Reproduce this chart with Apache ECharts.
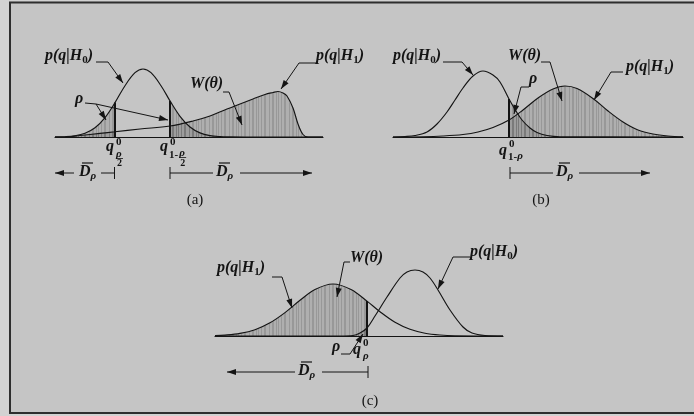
<!DOCTYPE html>
<html lang="en">
<head>
<meta charset="UTF-8">
<title>Decision regions</title>
<script src="https://cdn.jsdelivr.net/npm/echarts@6/dist/echarts.min.js"></script>
<style>
    html, body { margin: 0; padding: 0; background: #d2d2d2; }
    #chart { width: 694px; height: 416px; }
</style>
</head>
<body>
<div id="chart"></div>
<script>
// (a) two-sided test: q positions and curve heights
var qA0 = [0, 10, 20, 30, 40, 50, 60, 70, 80, 88, 96, 106, 115, 125, 135, 145, 155, 165, 175, 190, 268];
var hA0 = [0.1, 0.3, 1.2, 3.7, 9.2, 19.4, 34.4, 51.3, 64.3, 68, 64.3, 51.3, 36.1, 20.7, 10, 4.1, 1.4, 0.4, 0.1, 0, 0];
var qA1 = [0, 10, 25, 45, 60, 85, 115, 138, 155, 172, 185, 198, 210, 218, 223, 228, 232, 238, 243, 248, 253, 268];
var hA1 = [0, 0, 1.5, 3.6, 5.2, 8, 11, 16, 21, 28, 33, 38, 42.5, 44.5, 45.5, 44, 41, 29, 13, 2.5, 0, 0];
var cutA = [60, 115];

// (b) upper-tail test
var qB0 = [0, 12, 22, 34, 44, 54, 62, 70, 80, 90, 100, 107, 116, 123, 129, 137, 144, 154, 167, 290];
var hB0 = [0, 0.5, 1.5, 5, 13, 25, 37, 49, 61, 66, 62, 55, 38, 26, 17, 9, 4.5, 1.5, 0.3, 0];
var qB1 = [0, 30, 50, 70, 85, 100, 116, 130, 145, 160, 172, 184, 200, 215, 230, 245, 260, 275, 290];
var hB1 = [0, 0.3, 1, 2.5, 5, 9.5, 17, 27, 39, 48, 51, 48.5, 38.5, 26, 15, 7, 3, 1, 0.2];
var cutB = 116;

// (c) lower-tail test
var qC1 = [0, 10, 25, 40, 55, 70, 85, 100, 118, 136, 152, 165, 180, 195, 210, 225, 240, 288];
var hC1 = [0.4, 0.9, 2.6, 6.3, 13.2, 23.4, 35.7, 46.5, 52, 46.5, 34.9, 24.2, 13.7, 6.7, 2.8, 1, 0.3, 0];
var qC0 = [0, 125, 138, 145, 152, 160, 172, 185, 192, 200, 208, 215, 223, 235, 248, 257, 270, 288];
var hC0 = [0, 0, 0.5, 3, 8, 20, 39, 58, 64, 66, 64, 58, 46, 26, 9, 3, 0.5, 0];
var cutC = 152;

var INK = '#141414';
var FAM = 'Liberation Serif';
// [style, weight, size]
var FI = ['italic', 'bold', 16];
var FS = ['normal', 'bold', 11];
var FS2 = ['normal', 'bold', 10];
var FSI = ['italic', 'bold', 11];
var FU = ['normal', 'normal', 15];

// hatched fill, like the printed shading
var pat = document.createElement('canvas');
pat.width = 20; pat.height = 4;
var pg = pat.getContext('2d');
pg.fillStyle = 'rgba(80,80,80,0.19)';
pg.fillRect(0, 0, 20, 4);
pg.fillStyle = 'rgba(40,40,40,0.17)';
[1, 4, 5, 9, 12, 13, 16, 18].forEach(function (c) { pg.fillRect(c, 0, 1, 4); });
var fill = { image: pat, repeat: 'repeat' };

function pairs(xs, ys) { return xs.map(function (x, i) { return [x, ys[i]]; }); }
function upto(p, t) { return p.filter(function (d) { return d[0] <= t; }); }
function from(p, t) { return p.filter(function (d) { return d[0] >= t; }); }
function at(xs, ys, t) { return ys[xs.indexOf(t)]; }

var series = [];
function curve(g, data) {
    series.push({ type: 'line', xAxisIndex: g, yAxisIndex: g, data: data, smooth: 0.35, symbol: 'none',
        lineStyle: { color: INK, width: 1.15 }, z: 5 });
}
function shade(g, data) {
    series.push({ type: 'line', xAxisIndex: g, yAxisIndex: g, data: data, smooth: 0.35, symbol: 'none',
        lineStyle: { opacity: 0 }, areaStyle: { color: fill, opacity: 1 }, z: 3 });
}
function cut(g, t, h) {
    series.push({ type: 'line', xAxisIndex: g, yAxisIndex: g, data: [[t, 0], [t, h]], symbol: 'none',
        lineStyle: { color: INK, width: 2 }, z: 6 });
}

var pA0 = pairs(qA0, hA0), pA1 = pairs(qA1, hA1);
shade(0, upto(pA0, cutA[0])); shade(0, upto(pA1, cutA[0]));
shade(0, from(pA0, cutA[1])); shade(0, from(pA1, cutA[1]));
curve(0, pA0); curve(0, pA1);
cut(0, cutA[0], at(qA0, hA0, cutA[0])); cut(0, cutA[1], at(qA0, hA0, cutA[1]));

var pB0 = pairs(qB0, hB0), pB1 = pairs(qB1, hB1);
shade(1, from(pB0, cutB)); shade(1, from(pB1, cutB));
curve(1, pB0); curve(1, pB1);
cut(1, cutB, at(qB0, hB0, cutB));

var pC0 = pairs(qC0, hC0), pC1 = pairs(qC1, hC1);
shade(2, upto(pC1, cutC)); shade(2, upto(pC0, cutC));
curve(2, pC0); curve(2, pC1);
cut(2, cutC, at(qC1, hC1, cutC));

// annotation helpers
var els = [];
var mctx = document.createElement('canvas').getContext('2d');
function tw(s, f) {
    mctx.font = f[0] + ' ' + f[1] + ' ' + f[2] + 'px "' + FAM + '"';
    return mctx.measureText(s).width;
}
function T(x, y, s, f, align) {
    els.push({ type: 'text', x: x, y: y, z: 100,
        style: { text: s, fontStyle: f[0], fontWeight: f[1], fontSize: f[2], fontFamily: FAM,
            fill: INK, align: align || 'left', verticalAlign: 'middle' } });
    return x + tw(s, f);
}
function run(x, y, parts) {
    parts.forEach(function (p) { x = T(x, y + (p[2] || 0), p[0], p[1]); });
    return x;
}
function seg(pts, w) {
    els.push({ type: 'polyline', z: 100, shape: { points: pts }, style: { stroke: INK, lineWidth: w || 1, fill: null } });
}
function arrow(pts) {
    seg(pts, 1);
    var a = pts[pts.length - 2], b = pts[pts.length - 1];
    var dx = b[0] - a[0], dy = b[1] - a[1], L = Math.sqrt(dx * dx + dy * dy);
    var ux = dx / L, uy = dy / L, len = 9, wd = 3;
    var bx = b[0] - ux * len, by = b[1] - uy * len;
    els.push({ type: 'polygon', z: 100, shape: { points: [[b[0], b[1]], [bx - uy * wd, by + ux * wd], [bx + uy * wd, by - ux * wd]] },
        style: { fill: INK } });
}
function hyp(x, y, k) { return run(x, y, [['p(q|H', FI], [k, FS, 4], [')', FI]]); }
function dbar(x, y) {
    T(x, y, 'D', FI);
    seg([[x + 3, y - 9], [x + 14, y - 9]], 1.2);
    return T(x + tw('D', FI), y + 4, 'ρ', FSI);
}

// frame
els.push({ type: 'rect', z: 90, shape: { x: 0, y: 0, width: 9, height: 416 }, style: { fill: '#d2d2d2' } });
els.push({ type: 'rect', z: 90, shape: { x: 0, y: 0, width: 694, height: 1.5 }, style: { fill: '#d2d2d2' } });
els.push({ type: 'rect', z: 90, shape: { x: 0, y: 414, width: 694, height: 2 }, style: { fill: '#d2d2d2' } });
els.push({ type: 'polyline', z: 95, shape: { points: [[694, 2.5], [10, 2.5], [10, 413], [694, 413]] },
    style: { stroke: '#2e2e2e', lineWidth: 2, fill: null } });

// (a)
hyp(45, 56, '0');
arrow([[96, 62], [108, 62], [123, 83]]);
hyp(316, 56, '1');
arrow([[316, 63], [299, 63], [281, 89]]);
run(190, 84, [['W(θ)', FI]]);
arrow([[223, 92], [229, 92], [242, 125]]);
T(75, 99, 'ρ', FI);
seg([[85, 103], [96, 104]], 1);
arrow([[96, 104], [106, 120]]);
arrow([[96, 104], [168, 120]]);
T(106, 147, 'q', FI);
T(116, 142, '0', FS);
T(116, 154, 'ρ', FSI);
seg([[116, 158.5], [123, 158.5]], 0.8);
T(117, 163, '2', FS2);
T(160, 147, 'q', FI);
T(170, 142, '0', FS);
var xr = T(169, 155, '1-', FS);
T(xr + 1, 153, 'ρ', FSI);
seg([[xr + 1, 157.5], [xr + 8, 157.5]], 0.8);
T(xr + 2, 163, '2', FS2);
arrow([[74, 173], [55, 173]]);
dbar(79, 172);
seg([[101, 173], [114.5, 173]], 1);
seg([[114.5, 167], [114.5, 179]], 1);
seg([[170, 167], [170, 179]], 1);
seg([[170, 173], [213, 173]], 1);
dbar(216, 172);
arrow([[240, 173], [312, 173]]);
T(195, 200, '(a)', FU, 'center');

// (b)
hyp(393, 56, '0');
arrow([[443, 62], [462, 62], [473, 75]]);
run(508, 56, [['W(θ)', FI]]);
arrow([[541, 62], [550, 62], [562, 101]]);
T(529, 79, 'ρ', FI);
arrow([[529, 87], [521, 87], [514, 114]]);
hyp(626, 67, '1');
arrow([[623, 72], [611, 72], [594, 100]]);
T(499, 151, 'q', FI);
T(509, 144, '0', FS);
var xb = T(508, 157, '1-', FS);
T(xb, 156, 'ρ', FSI);
seg([[510, 167], [510, 179]], 1);
seg([[510, 173], [553, 173]], 1);
dbar(556, 172);
arrow([[579, 173], [650, 173]]);
T(541, 200, '(b)', FU, 'center');

// (c)
hyp(217, 268, '1');
arrow([[272, 277], [282, 277], [292, 308]]);
run(350, 258, [['W(θ)', FI]]);
arrow([[350, 262], [344, 262], [337, 297]]);
hyp(470, 252, '0');
arrow([[470, 257], [453, 257], [438, 289]]);
T(332, 347, 'ρ', FI);
arrow([[341, 354], [350, 354], [363, 334]]);
T(353, 350, 'q', FI);
T(363, 343, '0', FS);
T(363, 356, 'ρ', FSI);
arrow([[295, 372], [227, 372]]);
dbar(298, 371);
seg([[322, 372], [368, 372]], 1);
seg([[368, 366], [368, 378]], 1);
T(370, 401, '(c)', FU, 'center');

function xAx(g, max) {
    return { gridIndex: g, type: 'value', min: 0, max: max,
        axisLine: { show: true, onZero: false, lineStyle: { color: INK, width: 1.2 } },
        axisTick: { show: false }, axisLabel: { show: false }, splitLine: { show: false } };
}
function yAx(g) { return { gridIndex: g, type: 'value', min: 0, max: 100, show: false }; }

var chart = echarts.init(document.getElementById('chart'));
chart.setOption({
    backgroundColor: '#c5c5c5',
    animation: false,
    grid: [
        { left: 55, top: 37, width: 268, height: 100 },
        { left: 393, top: 37, width: 290, height: 100 },
        { left: 215, top: 236, width: 288, height: 100 }
    ],
    xAxis: [xAx(0, 268), xAx(1, 290), xAx(2, 288)],
    yAxis: [yAx(0), yAx(1), yAx(2)],
    series: series,
    graphic: { elements: els }
});
</script>
</body>
</html>
